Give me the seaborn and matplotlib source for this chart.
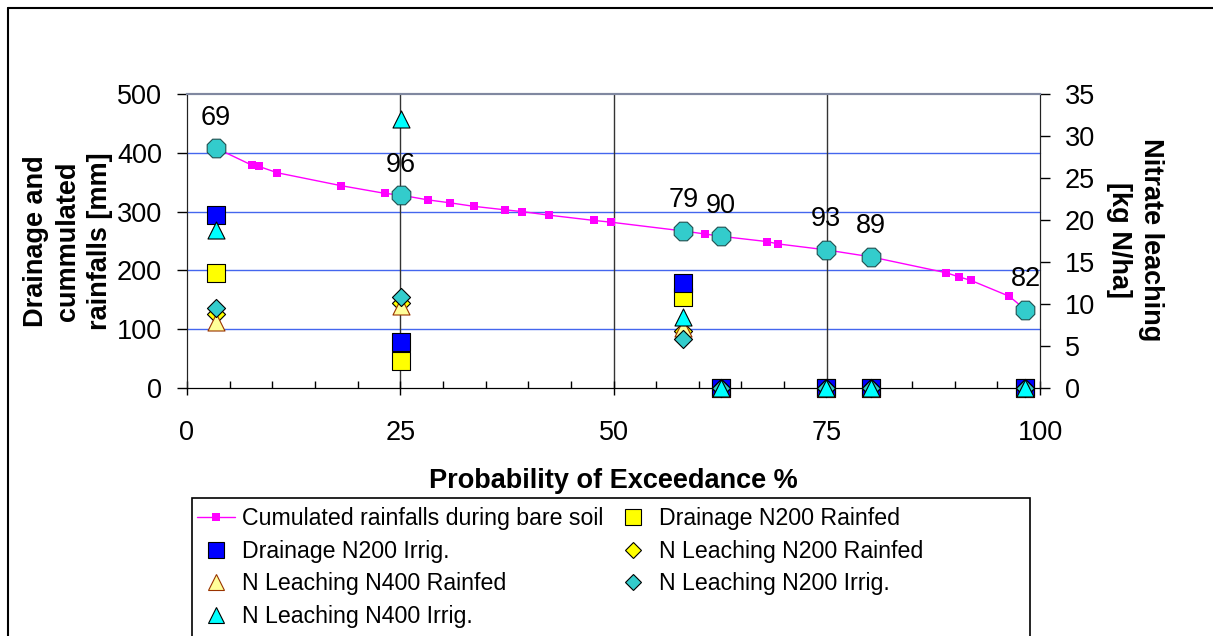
import seaborn as sns
import pandas as pd
import matplotlib.pyplot as plt
from matplotlib.lines import Line2D
from matplotlib.patches import Rectangle
from matplotlib.ticker import MultipleLocator

# Probability of exceedance (%) for the seven simulated years
prob = [3.4, 25.1, 58.2, 62.6, 74.9, 80.2, 98.3]
year_labels = ["69", "96", "79", "90", "93", "89", "82"]
year_rain = [408, 328, 267, 258, 235, 223, 133]

# Cumulated rainfall curve during bare soil (mm)
rain_x = [3.4, 7.6, 8.4, 10.6, 18.1, 23.2, 25.1, 28.2, 30.8, 33.6, 37.3, 39.3, 42.4,
          47.7, 49.7, 58.2, 60.7, 62.6, 68.0, 69.3, 74.9, 80.2, 89.0, 90.5, 91.9,
          96.4, 98.3]
rain_y = [408, 379, 377, 366, 344, 331, 328, 320, 315, 309, 303, 300, 294,
          285, 282, 267, 262, 258, 249, 245, 235, 223, 196, 189, 183,
          156, 133]

# Drainage (mm, left axis)
drain_n200_rainfed = [196, 46, 154, 0, 0, 0, 0]
drain_n200_irrig = [294, 79, 179, 0, 0, 0, 0]

# Nitrate leaching (kg N/ha, right axis)
nl_n200_rainfed = [8.8, 10.1, 6.8, 0, 0, 0, 0]
nl_n400_rainfed = [7.9, 9.8, 7.2, 0, 0, 0, 0]
nl_n200_irrig = [9.5, 10.8, 5.85, 0, 0, 0, 0]
nl_n400_irrig = [18.8, 32.0, 8.4, 0, 0, 0, 0]

sns.set_style("white", {'text.color': 'black', 'axes.labelcolor': 'black',
                        'xtick.color': 'black', 'ytick.color': 'black'})
plt.rcParams['font.family'] = ['Liberation Sans', 'DejaVu Sans']

FS = 19.5
W, H = 1213, 636
fig = plt.figure(figsize=(W / 100, H / 100), dpi=100)
ax = fig.add_axes([187 / W, 1 - 388 / H, (1040 - 187) / W, (388 - 94) / H])
ax2 = ax.twinx()

# grid lines
for yv in [100, 200, 300, 400]:
    ax.axhline(yv, color='#4466EE', lw=1, zorder=0)
for xv in [25, 50, 75]:
    ax.axvline(xv, color='#333333', lw=1, zorder=0)

# cumulated rainfall line
sns.lineplot(x=rain_x, y=rain_y, ax=ax, color='#FF00FF', lw=1, marker='s',
             markersize=6, markeredgewidth=0, zorder=3)

# drainage on the left axis
sns.scatterplot(x=prob, y=drain_n200_rainfed, ax=ax, marker='s', s=150,
                color='#FFFF00', edgecolor='black', linewidth=0.8, zorder=4)
sns.scatterplot(x=prob, y=drain_n200_irrig, ax=ax, marker='s', s=150,
                color='#0000FF', edgecolor='black', linewidth=0.8, zorder=4)

# year octagons with labels
sns.scatterplot(x=prob, y=year_rain, ax=ax, marker='8', s=210,
                color='#33CCCC', edgecolor='#1F4F4F', linewidth=0.8, zorder=5)
for x, y, lab in zip(prob, year_rain, year_labels):
    ax.annotate(lab, (x, y), xytext=(0, 22), textcoords='offset points',
                ha='center', va='center', fontsize=FS, color='black')

# nitrate leaching on the right axis
sns.scatterplot(x=prob, y=nl_n200_rainfed, ax=ax2, marker='D', s=85,
                color='#FFFF00', edgecolor='black', linewidth=0.8, zorder=4)
sns.scatterplot(x=prob, y=nl_n400_rainfed, ax=ax2, marker='^', s=150,
                color='#FFFF99', edgecolor='#993300', linewidth=0.8, zorder=4)
sns.scatterplot(x=prob, y=nl_n200_irrig, ax=ax2, marker='D', s=85,
                color='#33CCCC', edgecolor='black', linewidth=0.8, zorder=4)
sns.scatterplot(x=prob, y=nl_n400_irrig, ax=ax2, marker='^', s=150,
                color='#00FFFF', edgecolor='black', linewidth=0.8, zorder=4)

for a in (ax, ax2):
    a.set_xlim(0, 100)
    for m in a.collections:
        m.set_clip_on(False)
ax.set_ylim(0, 500)
ax2.set_ylim(0, 35)
for l in ax.lines:
    l.set_clip_on(False)

ax.xaxis.set_major_locator(MultipleLocator(25))
ax.xaxis.set_minor_locator(MultipleLocator(5))
ax.yaxis.set_major_locator(MultipleLocator(100))
ax2.yaxis.set_major_locator(MultipleLocator(5))
ax.tick_params(axis='x', which='major', direction='inout', length=10, width=1,
               labelsize=FS, pad=18, bottom=True)
ax.tick_params(axis='x', which='minor', direction='in', length=5, width=1, bottom=True)
ax.tick_params(axis='y', direction='out', length=7, width=1, labelsize=FS, pad=11, left=True)
ax2.tick_params(axis='y', direction='out', length=7, width=1, labelsize=FS, pad=11, right=True)

for a in (ax, ax2):
    a.spines['top'].set_color('#8088A0')
    a.spines['top'].set_linewidth(1.5)
    a.spines['bottom'].set_color('black')
    a.spines['left'].set_color('#222222')
    a.spines['right'].set_color('#222222')

ax.set_xlabel('Probability of Exceedance %', fontsize=FS, fontweight='bold', labelpad=16)
fig.text(68 / W, 1 - 241 / H, 'Drainage and\ncummulated\nrainfalls [mm]', rotation=90,
         ha='center', va='center', multialignment='center', fontsize=FS,
         fontweight='bold', linespacing=1.3)
fig.text(1135 / W, 1 - 240 / H, 'Nitrate leaching\n[kg N/ha]', rotation=270,
         ha='center', va='center', multialignment='center', fontsize=FS,
         fontweight='bold', linespacing=1.3)

# outer chart frame (right and bottom edges fall outside the picture)
fig.add_artist(Line2D([8 / W, 8 / W], [0, 1 - 8 / H], color='black', lw=1.5))
fig.add_artist(Line2D([8 / W, 1], [1 - 8 / H, 1 - 8 / H], color='black', lw=1.5))

# legend box (its bottom edge lies below the picture)
fig.add_artist(Rectangle((192 / W, -0.1), (1030 - 192) / W, 1 - 498 / H + 0.1,
                         fill=False, edgecolor='black', lw=1.2))

# legend entries, filled column-wise in the order Excel shows them row-wise
def mk(marker, face, edge, size):
    return Line2D([], [], ls='none', marker=marker, markersize=size,
                  markerfacecolor=face, markeredgecolor=edge, markeredgewidth=0.8)

handles = [
    Line2D([], [], color='#FF00FF', lw=1, marker='s', markersize=6, markeredgewidth=0),
    mk('s', '#0000FF', 'black', 11),
    mk('^', '#FFFF99', '#993300', 12),
    mk('^', '#00FFFF', 'black', 12),
    mk('s', '#FFFF00', 'black', 11),
    mk('D', '#FFFF00', 'black', 8),
    mk('D', '#33CCCC', 'black', 8),
]
labels = [
    'Cumulated rainfalls during bare soil',
    'Drainage N200 Irrig.',
    'N Leaching N400 Rainfed',
    'N Leaching N400 Irrig.',
    'Drainage N200 Rainfed',
    'N Leaching N200 Rainfed',
    'N Leaching N200 Irrig.',
]
fig.legend(handles, labels, ncol=2, loc='upper left',
           bbox_to_anchor=(197 / W, 1 - 507 / H), fontsize=16.7, frameon=False,
           handlelength=1.64, handletextpad=0.3, columnspacing=0.47,
           labelspacing=0.42, borderpad=0, borderaxespad=0)

fig.savefig('out.png', dpi=100)
